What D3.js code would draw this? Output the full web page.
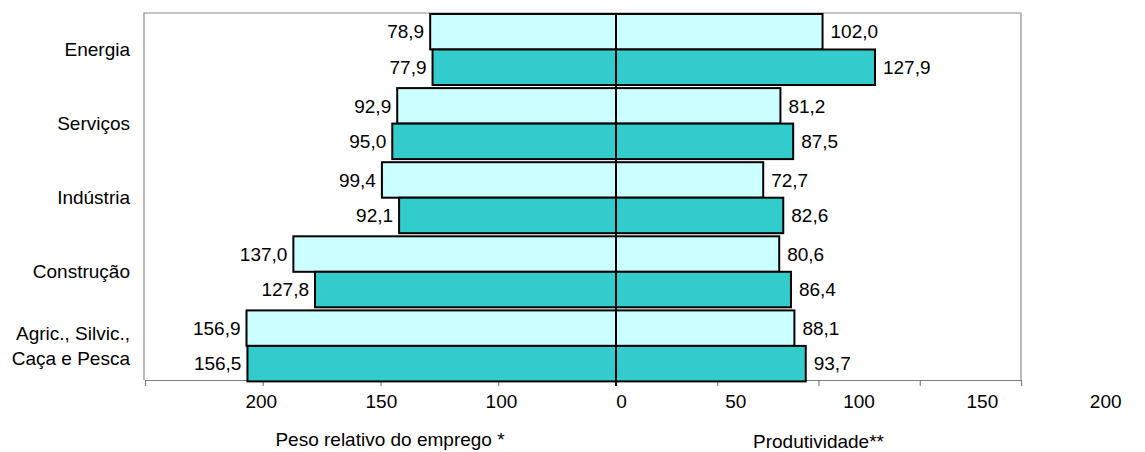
<!DOCTYPE html>
<html><head><meta charset="utf-8">
<script src="https://cdn.jsdelivr.net/npm/d3@7"></script>
<style>body{margin:0;background:#fff}svg{display:block}text{font-family:"Liberation Sans",Arial,sans-serif;fill:#000}</style>
</head><body><svg id="c" width="1145" height="452"></svg>
<script>
const categories = [["Energia"],["Serviços"],["Indústria"],["Construção"],["Agric., Silvic.,","Caça e Pesca"]];
const emprego1 = [78.9, 92.9, 99.4, 137.0, 156.9];
const emprego2 = [77.9, 95.0, 92.1, 127.8, 156.5];
const produt1 = [102.0, 81.2, 72.7, 80.6, 88.1];
const produt2 = [127.9, 87.5, 82.6, 86.4, 93.7];
const tickValues = [0, 50, 100, 150, 200];
const leftTickLabels = ["200","150","100","0"];
const rightTickLabels = ["50","100","150","200"];
const titleLeft = "Peso relativo do emprego *";
const titleRight = "Produtividade**";

(function(){
const svg = d3.select("#c");
const fmt = v => d3.format(".1f")(v).replace(".", ",");
const cx = 616, pTop = 13, pBottom = 380, pLeft = 144, pRight = 1021;
const xL = d3.scaleLinear().domain([0,200]).range([cx, 145]);
const xR = d3.scaleLinear().domain([0,200]).range([cx, pRight]);
const keys = categories.map((c,i)=>i);
const y = d3.scaleBand().domain(keys).range([14, 381.4]).paddingInner(0.042).paddingOuter(0);
const sub = d3.scaleBand().domain([0,1]).range([0, y.bandwidth()]);
const light = "#CCFFFF", dark = "#33CCCC";

// frame
svg.append("path").attr("d", `M${pLeft},${pBottom}V${pTop}H${pRight}V${pBottom}`)
  .attr("fill","none").attr("stroke","#8c8c8c").attr("stroke-width",1.2);

// axes (ticks only)
svg.append("g").attr("transform",`translate(0,${pBottom})`)
  .call(d3.axisBottom(xL).tickValues(tickValues).tickSize(6).tickSizeOuter(0).tickFormat(""));
svg.append("g").attr("transform",`translate(0,${pBottom})`)
  .call(d3.axisBottom(xR).tickValues(tickValues).tickSize(6).tickSizeOuter(0).tickFormat(""));
svg.selectAll(".domain").attr("stroke","#808080").attr("stroke-width",1.2);
svg.selectAll(".tick line").attr("stroke","#808080").attr("stroke-width",1.2);

const series = [
  {e: emprego1, p: produt1, c: light, k: 0},
  {e: emprego2, p: produt2, c: dark, k: 1}
];
series.forEach(s => {
  const g = svg.append("g");
  keys.forEach(i => {
    const y0 = y(i) + sub(s.k), h = sub.bandwidth();
    g.append("rect").attr("x", xL(s.e[i])).attr("y", y0).attr("width", cx - xL(s.e[i])).attr("height", h)
      .attr("fill", s.c).attr("stroke","#000").attr("stroke-width",2);
    g.append("rect").attr("x", cx).attr("y", y0).attr("width", xR(s.p[i]) - cx).attr("height", h)
      .attr("fill", s.c).attr("stroke","#000").attr("stroke-width",2);
    g.append("text").attr("x", xL(s.e[i]) - 6).attr("y", y0 + h/2).attr("dy","0.35em")
      .attr("text-anchor","end").attr("font-size",19).text(fmt(s.e[i]));
    g.append("text").attr("x", xR(s.p[i]) + 8).attr("y", y0 + h/2).attr("dy","0.35em")
      .attr("text-anchor","start").attr("font-size",19).text(fmt(s.p[i]));
  });
});

// center line
svg.append("line").attr("x1",cx).attr("x2",cx).attr("y1",pTop).attr("y2",pBottom+6)
  .attr("stroke","#000").attr("stroke-width",2);

// category labels
keys.forEach(i => {
  const lines = categories[i];
  const yc = y(i) + y.bandwidth()/2;
  lines.forEach((t,j) => {
    svg.append("text").attr("x",130).attr("y", yc + (j - (lines.length-1)/2)*25).attr("dy","0.35em")
      .attr("text-anchor","end").attr("font-size",19).text(t);
  });
});

// tick labels
const pL = d3.scalePoint().domain(leftTickLabels.map((d,i)=>i)).range([261.3, 621.5]);
const pR = d3.scalePoint().domain(rightTickLabels.map((d,i)=>i)).range([735.7, 1105.7]);
leftTickLabels.forEach((t,i)=> svg.append("text").attr("x",pL(i)).attr("y",408).attr("text-anchor","middle").attr("font-size",19).text(t));
rightTickLabels.forEach((t,i)=> svg.append("text").attr("x",pR(i)).attr("y",408).attr("text-anchor","middle").attr("font-size",19).text(t));

svg.append("text").attr("x",390).attr("y",446).attr("text-anchor","middle").attr("font-size",19).text(titleLeft);
svg.append("text").attr("x",818.5).attr("y",448).attr("text-anchor","middle").attr("font-size",19).text(titleRight);
})();
</script></body></html>
